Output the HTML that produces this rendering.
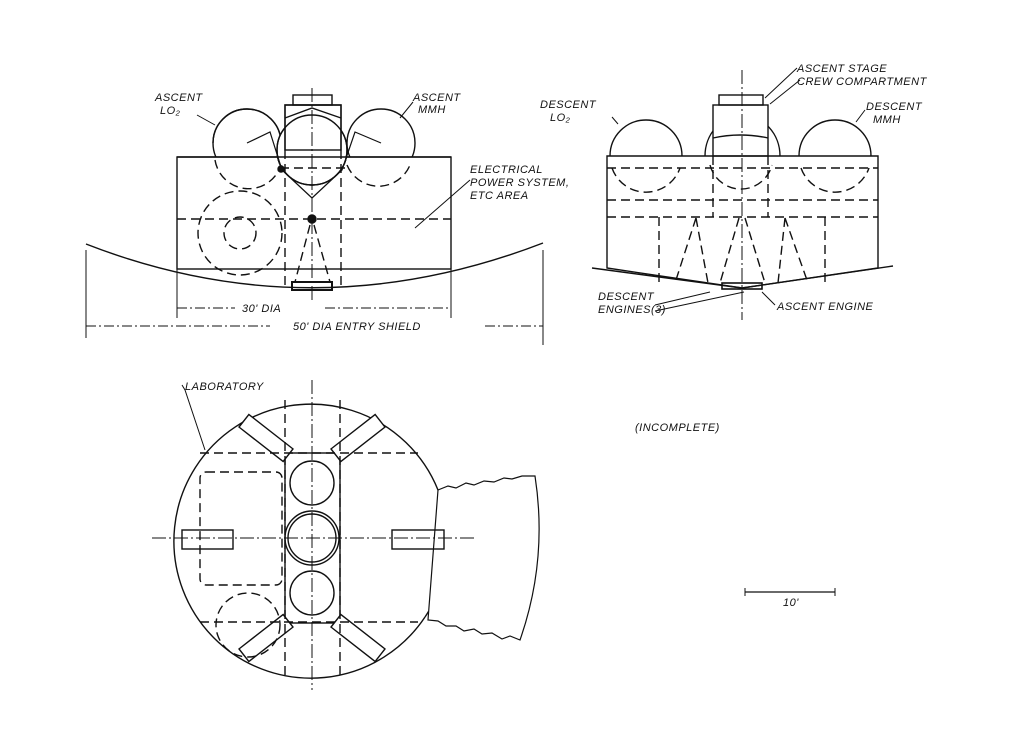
<!DOCTYPE html>
<html><head><meta charset="utf-8"><style>
html,body{margin:0;padding:0;background:#fff;}
svg{display:block}
text{font-family:"Liberation Sans",sans-serif;font-style:italic;fill:#111;font-size:11px;letter-spacing:0.5px}
</style></head><body>
<svg width="1024" height="746" viewBox="0 0 1024 746" xmlns="http://www.w3.org/2000/svg">
<g fill="none" stroke="#111" stroke-width="1.4">
<!-- ===== TOP LEFT VIEW ===== -->
<circle cx="247" cy="143" r="34"/>
<circle cx="381" cy="143" r="34"/>
<rect x="177" y="157" width="274" height="112" fill="#fff"/>
<path d="M247 109 A34 34 0 0 1 281 143 M213 143 A34 34 0 0 1 247 109" />
<circle cx="312" cy="150" r="35" fill="#fff"/>
<path d="M347 150 A35 35 0 0 1 277 150" fill="#fff"/>
<rect x="285" y="105" width="56" height="45" fill="#fff"/>
<path d="M285 150 L285 105 L341 105 L341 150"/>
<path d="M285 118 L312 108 L341 118"/>
<rect x="293" y="95" width="39" height="10"/>
<path d="M277 150 A35 35 0 0 1 347 150 A35 35 0 0 1 277 150"/>
<line x1="177" y1="157" x2="451" y2="157"/>
<path d="M86 244 Q312 332 543 243"/>
<rect x="292" y="282" width="40" height="8" stroke-width="2"/>
<g stroke-dasharray="9,5">
<line x1="177" y1="219" x2="451" y2="219"/>
<line x1="285" y1="150" x2="285" y2="290"/>
<line x1="341" y1="150" x2="341" y2="290"/>
<line x1="280" y1="168" x2="350" y2="168"/>
<circle cx="240" cy="233" r="42"/>
<circle cx="240" cy="233" r="16"/>
<path d="M215 160 A34 34 0 0 0 281 165"/>
<path d="M347 165 A34 34 0 0 0 410 165"/>
<path d="M310 225 L295 282 M314 225 L330 282"/>
</g>
<path d="M247 143 L270 132 L282 170 L312 198 L342 170 L355 132 L381 143" stroke-width="1.2"/>
<circle cx="312" cy="219" r="4" fill="#111"/>
<circle cx="281" cy="169" r="3" fill="#111"/>
<line x1="312" y1="88" x2="312" y2="300" stroke-dasharray="14,3,2,3" stroke-width="1"/>
<!-- dims -->
<line x1="177" y1="269" x2="177" y2="318" stroke-width="1"/>
<line x1="451" y1="269" x2="451" y2="318" stroke-width="1"/>
<line x1="177" y1="308" x2="235" y2="308" stroke-dasharray="10,3,2,3" stroke-width="1"/>
<line x1="325" y1="308" x2="451" y2="308" stroke-dasharray="10,3,2,3" stroke-width="1"/>
<line x1="86" y1="250" x2="86" y2="338" stroke-width="1"/>
<line x1="543" y1="250" x2="543" y2="345" stroke-width="1"/>
<line x1="86" y1="326" x2="270" y2="326" stroke-dasharray="10,3,2,3" stroke-width="1"/>
<line x1="485" y1="326" x2="543" y2="326" stroke-dasharray="10,3,2,3" stroke-width="1"/>
<path d="M197 115 L215 125 M413 102 L400 118 M470 180 L415 228" stroke-width="1"/>
<!-- ===== TOP RIGHT VIEW ===== -->
<path d="M610 156 A36 36 0 0 1 682 156"/>
<path d="M799 156 A36 36 0 0 1 871 156"/>
<path d="M705 156 A37 40 0 0 1 780 156"/>
<rect x="713" y="105" width="55" height="51" fill="#fff"/>
<path d="M713 138 Q740 132 768 138"/>
<rect x="719" y="95" width="44" height="10"/>
<path d="M607 156 L878 156 L878 268 L742 288 L607 268 Z"/>
<path d="M592 268 L742 288 L893 266"/>
<rect x="722" y="283" width="40" height="6" stroke-width="1.6"/>
<g stroke-dasharray="9,5">
<line x1="607" y1="200" x2="878" y2="200"/>
<line x1="607" y1="217" x2="878" y2="217"/>
<line x1="607" y1="168" x2="878" y2="168"/>
<line x1="713" y1="156" x2="713" y2="217"/>
<line x1="768" y1="156" x2="768" y2="217"/>
<line x1="659" y1="217" x2="659" y2="282"/>
<line x1="825" y1="217" x2="825" y2="282"/>
<path d="M612 168 A36 36 0 0 0 680 168"/>
<path d="M801 168 A36 36 0 0 0 869 168"/>
<path d="M710 165 A32 32 0 0 0 772 165"/>
<path d="M696 218 L675 283 M696 218 L708 283"/>
<path d="M739 218 L720 283 M745 218 L765 283"/>
<path d="M785 218 L778 283 M785 218 L808 283"/>
</g>
<line x1="742" y1="70" x2="742" y2="320" stroke-dasharray="14,3,2,3" stroke-width="1"/>
<path d="M797 68 L765 98 M800 80 L770 104 M612 117 L618 124 M865 110 L856 122 M655 305 L710 292 M655 311 L744 292 M775 305 L762 292" stroke-width="1"/>
<!-- ===== BOTTOM VIEW ===== -->
<path d="M438 490 A137 137 0 1 0 425 617" />
<path d="M438 490 A137 137 0 0 1 425 617" stroke-dasharray="9,5"/>
<path d="M438 490 l10 -4 l8 2 l10 -5 l8 2 l10 -4 l10 1 l10 -4 l8 1 l10 -3 l13 0 Q548 560 520 640 l-10 -4 l-8 3 l-10 -6 l-10 1 l-8 -5 l-10 2 l-8 -5 l-10 0 l-8 -5 l-10 -1 Z" fill="#fff" stroke-width="1.2"/>
<rect x="285" y="453" width="55" height="170"/>
<circle cx="312" cy="483" r="22"/>
<circle cx="312" cy="538" r="24"/>
<circle cx="312" cy="538" r="27"/>
<circle cx="312" cy="593" r="22"/>
<g stroke-width="1.4">
<rect x="238" y="430" width="56" height="16" transform="rotate(38 266 438)" fill="#fff"/>
<rect x="330" y="430" width="56" height="16" transform="rotate(-38 358 438)" fill="#fff"/>
<rect x="238" y="630" width="56" height="16" transform="rotate(-38 266 638)" fill="#fff"/>
<rect x="330" y="630" width="56" height="16" transform="rotate(38 358 638)" fill="#fff"/>
</g>
<rect x="182" y="530" width="51" height="19"/>
<rect x="392" y="530" width="52" height="19"/>
<g stroke-dasharray="9,5">
<line x1="285" y1="400" x2="285" y2="676"/>
<line x1="340" y1="400" x2="340" y2="676"/>
<line x1="200" y1="453" x2="418" y2="453"/>
<line x1="200" y1="622" x2="418" y2="622"/>
<rect x="200" y="472" width="82" height="113" rx="6"/>
<circle cx="248" cy="625" r="32"/>
</g>
<line x1="152" y1="538" x2="475" y2="538" stroke-dasharray="14,3,2,3" stroke-width="1"/>
<line x1="312" y1="380" x2="312" y2="690" stroke-dasharray="14,3,2,3" stroke-width="1"/>
<path d="M182 385 L185 390 L205 450" stroke-width="1"/>
<!-- scale -->
<line x1="745" y1="592" x2="835" y2="592" stroke-width="1.2"/>
<line x1="745" y1="588" x2="745" y2="596" stroke-width="1"/>
<line x1="835" y1="588" x2="835" y2="596" stroke-width="1"/>
</g>
<!-- labels -->
<text x="155" y="101">ASCENT</text>
<text x="160" y="114">LO₂</text>
<text x="413" y="101">ASCENT</text>
<text x="418" y="113">MMH</text>
<text x="470" y="173">ELECTRICAL</text>
<text x="470" y="186">POWER SYSTEM,</text>
<text x="470" y="199">ETC AREA</text>
<text x="242" y="312" font-size="12">30' DIA</text>
<text x="293" y="330" font-size="12">50' DIA ENTRY SHIELD</text>
<text x="797" y="72">ASCENT STAGE</text>
<text x="797" y="85">CREW COMPARTMENT</text>
<text x="540" y="108">DESCENT</text>
<text x="550" y="121">LO₂</text>
<text x="866" y="110">DESCENT</text>
<text x="873" y="123">MMH</text>
<text x="598" y="300">DESCENT</text>
<text x="598" y="313">ENGINES(3)</text>
<text x="777" y="310">ASCENT ENGINE</text>
<text x="185" y="390">LABORATORY</text>
<text x="635" y="431">(INCOMPLETE)</text>
<text x="783" y="606">10'</text>
</svg>
</body></html>
